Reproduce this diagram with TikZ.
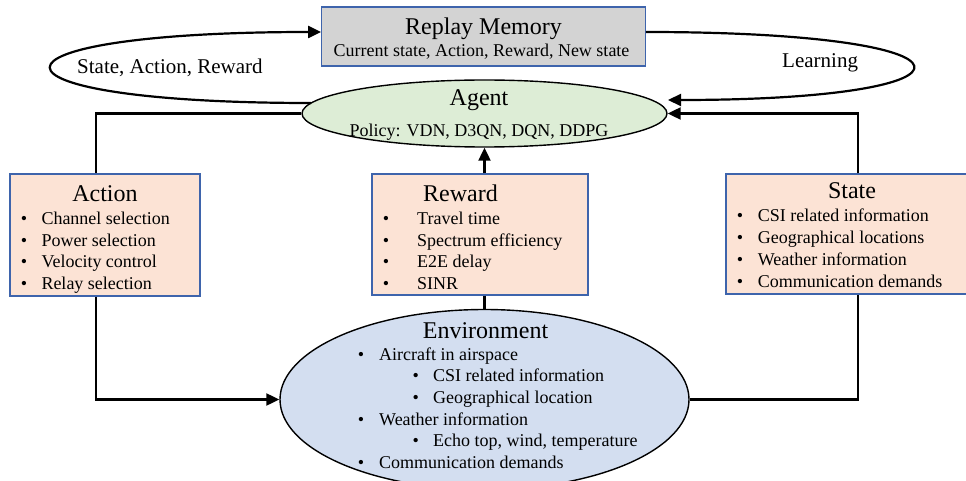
\documentclass[tikz,border=0pt]{standalone}
\usepackage{fontspec}
\setmainfont{Liberation Serif}
\usetikzlibrary{arrows.meta,shapes.geometric}

\definecolor{peach}{HTML}{FCE3D5}
\definecolor{frameblue}{HTML}{3E64AC}
\definecolor{memgray}{HTML}{D3D3D3}
\definecolor{agentgreen}{HTML}{DDEDD6}
\definecolor{envblue}{HTML}{D3DEF0}

\tikzset{
  panel/.style={draw=frameblue, fill=peach, line width=1.3pt, inner sep=0pt},
  membox/.style={draw=frameblue, fill=memgray, line width=1.3pt, inner sep=0pt},
  agentell/.style={ellipse, draw=black, fill=agentgreen, line width=1.4pt, inner sep=0pt},
  envell/.style={ellipse, draw=black, fill=envblue, line width=1.4pt, inner sep=0pt},
  ttl/.style={inner sep=0pt, anchor=base, font=\fontsize{24}{28}\selectfont},
  sub/.style={inner sep=0pt, anchor=base, font=\fontsize{18}{21}\selectfont},
  lbl/.style={inner sep=0pt, anchor=base west, font=\fontsize{21}{25}\selectfont},
  itm/.style={inner sep=0pt, anchor=base west, font=\fontsize{18}{21}\selectfont},
  bul/.style={inner sep=0pt, anchor=base, font=\fontsize{18}{21}\selectfont},
  wire/.style={line width=2.2pt, draw=black},
  tip/.style={-{Triangle[length=13pt,width=12pt]}},
}

% bullet list: name, bullet x, text x, first baseline, items
\newcommand\itemlist[5]{%
  \foreach \txt [count=\k] in {#5} {
    \node[bul] (#1b\k) at (#2, {#4+21.7*(\k-1)}) {•};
    \node[itm] (#1t\k) at (#3, {#4+21.7*(\k-1)}) {\txt};
  }}

\begin{document}
\begin{tikzpicture}[x=1pt, y=-1pt]
\useasboundingbox (0,0) rectangle (966,481);

% main blocks
\node[membox, minimum width=323.5pt, minimum height=59pt] (replay) at (483.5,36.5) {};
\node[agentell, minimum width=365pt, minimum height=67pt] (agent) at (484.5,113.5) {};
\node[envell, minimum width=409pt, minimum height=180pt] (env) at (484.5,399.5) {};
\node[panel, minimum width=190pt, minimum height=122pt] (action) at (105,235) {};
\node[panel, minimum width=216pt, minimum height=121pt] (reward) at (480,234.5) {};
\node[panel, minimum width=241pt, minimum height=120pt] (state) at (846.5,234) {};

% texts
\node[ttl] (replaytitle) at (483.5,35) {Replay Memory};
\node[sub] (replaysub) at (481.5,57) {Current state, Action, Reward, New state};
\node[ttl] (agenttitle) at (479,106) {Agent};
\node[sub] (agentsub) at (479,137) {Policy: VDN, D3QN, DQN, DDPG};

\node[ttl] (actiontitle) at (105,201) {Action};
\itemlist{act}{24}{41.3}{224.3}{Channel selection, Power selection, Velocity control, Relay selection}

\node[ttl] (rewardtitle) at (460.5,201) {Reward};
\itemlist{rew}{386}{417}{224.3}{Travel time, Spectrum efficiency, E2E delay, SINR}

\node[ttl] (statetitle) at (852,199) {State};
\itemlist{sta}{740}{757.7}{222}{CSI related information, Geographical locations, Weather information, Communication demands}

\node[ttl] (envtitle) at (485.5,338) {Environment};
\node[bul] (envb1) at (361,360) {•};
\node[itm] (envt1) at (379,360) {Aircraft in airspace};
\node[bul] (envb2) at (415.7,381.7) {•};
\node[itm] (envt2) at (433,381.7) {CSI related information};
\node[bul] (envb3) at (415.7,403.4) {•};
\node[itm] (envt3) at (433,403.4) {Geographical location};
\node[bul] (envb4) at (361,425.1) {•};
\node[itm] (envt4) at (379,425.1) {Weather information};
\node[bul] (envb5) at (415.7,446.8) {•};
\node[itm] (envt5) at (433,446.8) {Echo top, wind, temperature};
\node[bul] (envb6) at (361,468.5) {•};
\node[itm] (envt6) at (379,468.5) {Communication demands};

% loop labels
\node[lbl] (loopleft) at (77,74) {State, Action, Reward};
\node[lbl] (loopright) at (782,68) {Learning};

% connector helpers
\coordinate (lx) at (96,0);
\coordinate (rx) at (858,0);
\coordinate (agentout) at (311,103);
\coordinate (agentin) at (668,100);

% experience loop and learning loop
\draw[wire, tip] (agentout) .. controls (-37,103) and (-37,32) .. ([yshift=4.5pt]replay.west);
\draw[wire, tip] ([yshift=4.5pt]replay.east) .. controls (998,32) and (998,100) .. (agentin);

% agent - environment cycle
\draw[wire] (agent.west) -| (lx |- action.north);
\draw[wire, tip] (lx |- action.south) |- (env.west);
\draw[wire] (env.east) -| (rx |- state.south);
\draw[wire, tip] (rx |- state.north) |- (agent.east);
\draw[wire] (reward.south -| env.north) -- (env.north);
\draw[wire, tip] (reward.north -| agent.south) -- (agent.south);
\end{tikzpicture}
\end{document}
